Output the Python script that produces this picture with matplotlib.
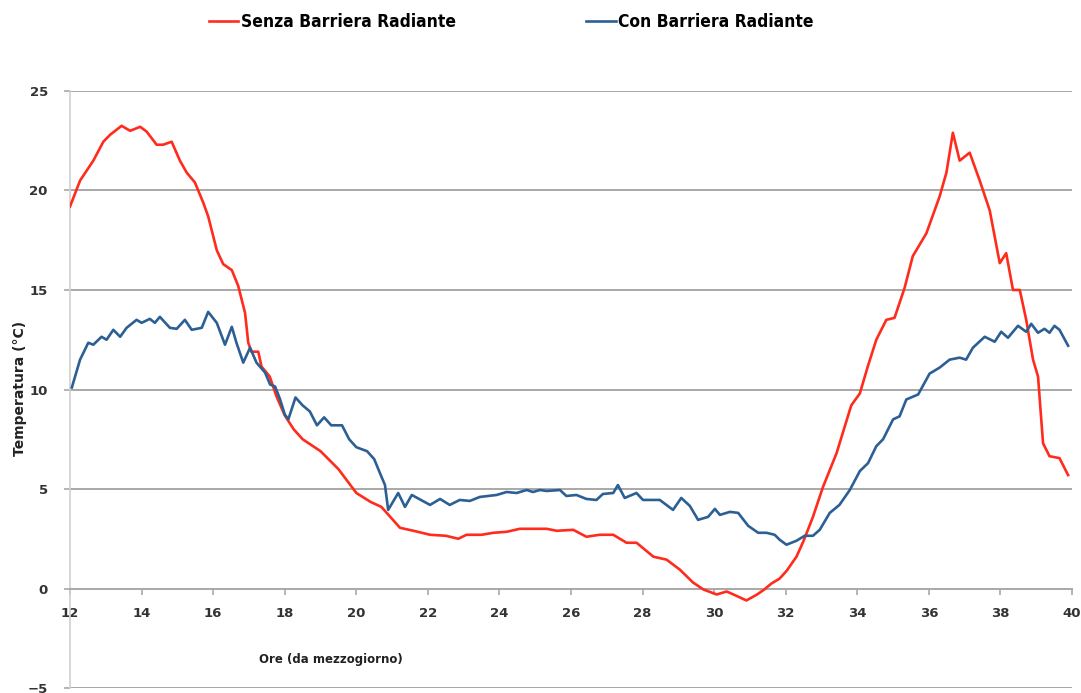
import matplotlib.pyplot as plt

# --- data ---
red_x = [12.0, 12.28, 12.65, 12.93, 13.12, 13.44, 13.68, 13.96, 14.14, 14.42, 14.6, 14.84,
         15.07, 15.26, 15.49, 15.72, 15.86, 16.1, 16.28, 16.52, 16.7, 16.89, 16.98, 17.07,
         17.26, 17.35, 17.58, 17.77, 18.0, 18.25, 18.5, 19.0, 19.5, 20.0, 20.4, 20.7, 21.22,
         21.6, 22.06, 22.5, 22.85, 23.08, 23.5, 23.83, 24.2, 24.57, 25.0, 25.32, 25.6, 26.06,
         26.43, 26.8, 27.18, 27.55, 27.83, 28.3, 28.67, 29.04, 29.41, 29.7, 30.07, 30.35,
         30.6, 30.9, 31.2, 31.4, 31.6, 31.83, 32.03, 32.3, 32.5, 32.76, 33.04, 33.42, 33.83,
         34.07, 34.3, 34.53, 34.81, 35.04, 35.32, 35.55, 35.93, 36.3, 36.49, 36.67, 36.86,
         37.14, 37.42, 37.7, 37.98, 38.16, 38.35, 38.54, 38.72, 38.91, 39.05, 39.19, 39.37,
         39.65, 39.89]
red_y = [19.2, 20.5, 21.5, 22.45, 22.8, 23.25, 23.0, 23.2, 22.96, 22.3, 22.3, 22.45,
         21.5, 20.9, 20.4, 19.4, 18.7, 17.0, 16.3, 16.0, 15.2, 13.85, 12.35, 11.9,
         11.9, 11.15, 10.65, 9.65, 8.7, 8.0, 7.5, 6.9, 6.0, 4.8, 4.35, 4.1, 3.05,
         2.9, 2.7, 2.65, 2.5, 2.7, 2.7, 2.8, 2.85, 3.0, 3.0, 3.0, 2.9, 2.95,
         2.6, 2.7, 2.7, 2.3, 2.3, 1.6, 1.45, 0.95, 0.3, -0.05, -0.3, -0.15,
         -0.35, -0.6, -0.3, -0.05, 0.25, 0.5, 0.9, 1.6, 2.4, 3.6, 5.1, 6.8, 9.2,
         9.8, 11.2, 12.5, 13.5, 13.6, 15.1, 16.7, 17.85, 19.7, 20.9, 22.9, 21.5,
         21.9, 20.5, 19.0, 16.35, 16.85, 15.0, 15.0, 13.5, 11.5, 10.65, 7.3, 6.65,
         6.55, 5.7]

blue_x = [12.05, 12.28, 12.51, 12.65, 12.88, 13.02, 13.21, 13.4, 13.58, 13.86, 14.0, 14.23,
          14.37, 14.51, 14.79, 14.98, 15.21, 15.4, 15.68, 15.86, 16.1, 16.33, 16.52, 16.65,
          16.84, 17.03, 17.21, 17.45, 17.59, 17.73, 17.87, 18.0, 18.1, 18.3, 18.5, 18.7, 18.9,
          19.1, 19.3, 19.6, 19.8, 20.0, 20.3, 20.5, 20.66, 20.8, 20.89, 21.17, 21.36, 21.55,
          22.06, 22.34, 22.61, 22.89, 23.17, 23.45, 23.92, 24.2, 24.48, 24.76, 24.94, 25.13,
          25.32, 25.69, 25.87, 26.15, 26.43, 26.71, 26.89, 27.18, 27.31, 27.5, 27.83, 28.01,
          28.48, 28.85, 29.08, 29.32, 29.55, 29.83, 30.02, 30.16, 30.44, 30.67, 30.95, 31.23,
          31.46, 31.69, 31.83, 32.02, 32.3, 32.53, 32.76, 32.95, 33.23, 33.5, 33.79, 34.07,
          34.3, 34.53, 34.72, 35.0, 35.18, 35.37, 35.7, 36.02, 36.3, 36.58, 36.86, 37.04,
          37.23, 37.56, 37.84, 38.02, 38.21, 38.49, 38.72, 38.86, 39.05, 39.23, 39.37, 39.51,
          39.65, 39.89]
blue_y = [10.1, 11.5, 12.35, 12.25, 12.65, 12.5, 13.0, 12.65, 13.1, 13.5, 13.35, 13.55,
          13.35, 13.65, 13.1, 13.05, 13.5, 13.0, 13.1, 13.9, 13.35, 12.25, 13.15, 12.35,
          11.35, 12.1, 11.35, 10.85, 10.25, 10.15, 9.5, 8.75, 8.5, 9.6, 9.2, 8.9, 8.2,
          8.6, 8.2, 8.2, 7.5, 7.1, 6.9, 6.5, 5.8, 5.2, 3.95, 4.8, 4.1, 4.7,
          4.2, 4.5, 4.2, 4.45, 4.4, 4.6, 4.7, 4.85, 4.8, 4.95, 4.85, 4.95,
          4.9, 4.95, 4.65, 4.7, 4.5, 4.45, 4.75, 4.8, 5.2, 4.55, 4.8, 4.45,
          4.45, 3.95, 4.55, 4.15, 3.45, 3.6, 4.0, 3.7, 3.85, 3.8, 3.15, 2.8,
          2.8, 2.7, 2.45, 2.2, 2.4, 2.65, 2.65, 2.95, 3.8, 4.2, 4.95, 5.9,
          6.3, 7.15, 7.5, 8.5, 8.65, 9.5, 9.75, 10.8, 11.1, 11.5, 11.6, 11.5,
          12.1, 12.65, 12.4, 12.9, 12.6, 13.2, 12.9, 13.3, 12.85, 13.05, 12.85, 13.2,
          13.0, 12.2]

series_labels = ["Senza Barriera Radiante", "Con Barriera Radiante"]
x_ticks = list(range(12, 41, 2))
y_ticks = list(range(-5, 26, 5))

fig = plt.figure(figsize=(10.81, 6.93), dpi=100)
ax = fig.add_axes([0.0648, 0.0072, 0.9269, 0.8615])

grid_col = "#a8a8a8"
for yv in y_ticks:
    if yv != 0:
        ax.axhline(yv, color=grid_col, lw=1.4, zorder=1)

ax.plot(red_x, red_y, color="#ff2b1c", lw=1.9, label=series_labels[0],
        solid_joinstyle="round", zorder=3)
ax.plot(blue_x, blue_y, color="#2c5f94", lw=1.9, label=series_labels[1],
        solid_joinstyle="round", zorder=3)

ax.set_xlim(12, 40)
ax.set_ylim(-5, 25)
ax.set_xticks(x_ticks)
ax.set_yticks(y_ticks)

for s in ["top", "right"]:
    ax.spines[s].set_visible(False)
ax.spines["bottom"].set_position(("data", 0))
ax.spines["bottom"].set_color(grid_col)
ax.spines["bottom"].set_linewidth(1.4)
ax.spines["left"].set_color("#d0d0d0")
ax.spines["left"].set_linewidth(1.2)

ax.tick_params(axis="x", length=4, width=1.2, color=grid_col, pad=9,
               labelsize=9.5, labelcolor="#333333")
ax.tick_params(axis="y", length=4, width=1.2, color=grid_col, pad=12,
               labelsize=9.5, labelcolor="#333333")
for lab in ax.get_xticklabels() + ax.get_yticklabels():
    lab.set_fontweight("bold")

# x label sits inside the axes area, below the zero line
ax.text(0.26, -3.55, "Ore (da mezzogiorno)", transform=ax.get_yaxis_transform(),
        fontsize=8.5, fontweight="bold", ha="center", va="center", color="#222222")
fig.text(0.0185, 0.44, "Temperatura (°C)", rotation=90, fontsize=10, fontweight="bold",
         ha="center", va="center", color="#222222")

fig.legend(loc="center", bbox_to_anchor=(0.473, 0.968), ncol=2, frameon=False,
           handlelength=1.7, handletextpad=0.15, columnspacing=7.5,
           prop={"family": "DejaVu Sans", "stretch": "condensed", "weight": "bold", "size": 12.5})

fig.savefig("out.png", dpi=100)
